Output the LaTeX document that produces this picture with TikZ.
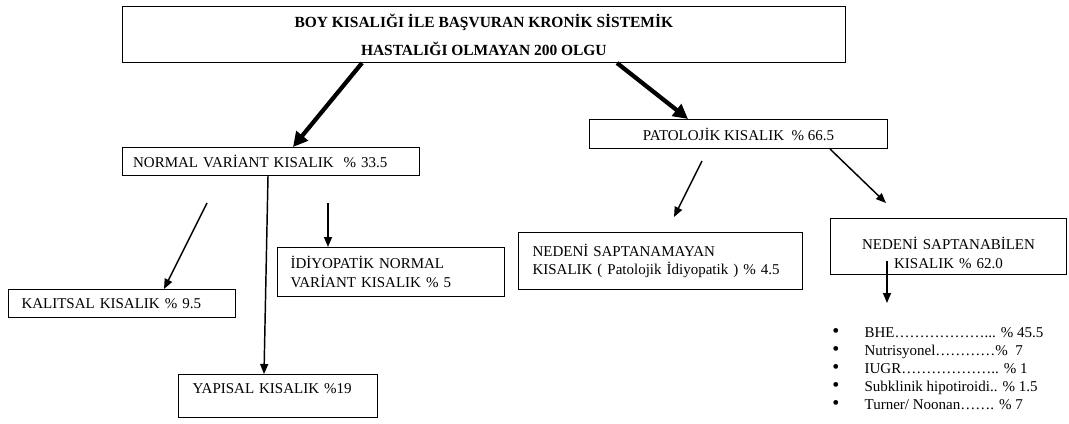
\documentclass[tikz,border=0pt]{standalone}
\usepackage{fontspec}
\setmainfont{Liberation Serif}
\usetikzlibrary{positioning, calc, arrows.meta}

\newcommand{\madde}{{\fontsize{15}{13.5}\selectfont\textbullet}}

\begin{document}
\begin{tikzpicture}[
    x=0.75pt, y=-0.75pt,
    box/.style={draw, line width=0.75pt, anchor=north west, inner ysep=0pt, font=\fontsize{11.25}{14.25}\selectfont},
    leftbox/.style={box, align=left},
    midbox/.style={box, align=center},
    directed/.style={-{Triangle[length=7.5pt, width=6pt]}, line width=1.1pt},
    bold directed/.style={-{Triangle[length=11pt, width=11pt]}, line width=3.2pt}
]
\useasboundingbox (0,0) rectangle (1069,424);

% Kutular
\node[midbox, minimum width=542pt, minimum height=42pt, inner xsep=0pt,
      font=\fontsize{11.6}{21}\selectfont\bfseries] (olgu) at (122,6)
      {BOY KISALIĞI İLE BAŞVURAN KRONİK SİSTEMİK\\HASTALIĞI OLMAYAN 200 OLGU};
\node[leftbox, text width=206.75pt, inner xsep=8pt, minimum height=21pt] (normal) at (122,147)
      {NORMAL VARİANT KISALIK~ \% 33.5};
\node[box, minimum width=223.5pt, minimum height=21.75pt, inner xsep=0pt] (patolojik) at (589,119)
      {PATOLOJİK KISALIK~ \% 66.5};
\node[leftbox, text width=150.75pt, inner xsep=9.75pt, minimum height=21pt] (kalitsal) at (8,289)
      {KALITSAL KISALIK \% 9.5};
\node[leftbox, text width=150.75pt, inner xsep=9.75pt, minimum height=36.75pt] (idiyopatik) at (277,247)
      {İDİYOPATİK NORMAL\\VARİANT KISALIK \% 5};
\node[leftbox, text width=128.25pt, inner xsep=10.5pt, minimum height=32.25pt, text depth=10.5pt] (yapisal) at (178,374)
      {YAPISAL KISALIK \%19};
\node[leftbox, text width=192pt, inner xsep=10.5pt, minimum height=42.75pt,
      font=\fontsize{11.25}{13.5}\selectfont] (saptanamayan) at (518,232)
      {NEDENİ SAPTANAMAYAN\\KISALIK ( Patolojik İdiyopatik ) \% 4.5};
\node[midbox, text width=169pt, inner xsep=4pt, minimum height=42pt, text depth=5pt] (saptanabilen) at (830,218)
      {NEDENİ SAPTANABİLEN\\KISALIK \% 62.0};

% Nedenler listesi
\node[anchor=north west, inner sep=0pt, font=\fontsize{11.25}{13.5}\selectfont] (nedenler) at (832,325)
      {\renewcommand{\arraystretch}{1}%
       \begin{tabular}{@{}l@{\hspace{19pt}}l@{}}
       \madde & BHE………………... \% 45.5\\
       \madde & Nutrisyonel…………\%~ 7\\
       \madde & IUGR……………….. \% 1\\
       \madde & Subklinik hipotiroidi.. \% 1.5\\
       \madde & Turner/ Noonan……. \% 7
       \end{tabular}};

% Serbest uçlar
\coordinate (k1) at (207,203);
\coordinate (i1) at (328,203);
\coordinate (p1) at (702,161);
\coordinate (p2) at (674,217);
\coordinate (b1) at (887,261);
\coordinate (b2) at (887,303);
\coordinate (s2) at (886,203);

% Oklar
\draw[bold directed] ([xshift=180pt]olgu.south west) -- ([xshift=128.25pt]normal.north west);
\draw[bold directed] ([xshift=371.25pt]olgu.south west) -- ([xshift=74.25pt]patolojik.north west);
\draw[directed] (k1) -- ([xshift=117pt]kalitsal.north west);
\draw[directed] ([xshift=109.5pt]normal.south west) -- ([xshift=64.5pt]yapisal.north west);
\draw[directed] (i1) -- ([xshift=38.25pt]idiyopatik.north west);
\draw[directed] (p1) -- (p2);
\draw[directed] ([xshift=180.75pt]patolojik.south west) -- (s2);
\draw[directed] (b1) -- (b2);

\end{tikzpicture}
\end{document}
